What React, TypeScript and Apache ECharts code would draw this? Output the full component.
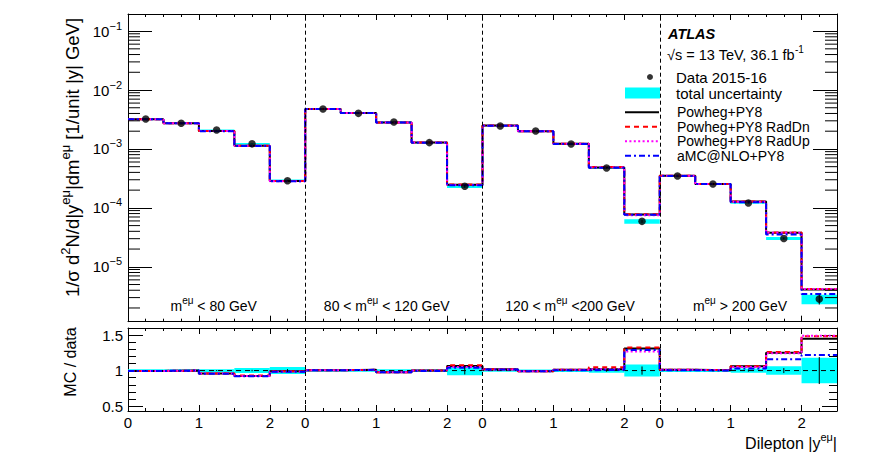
import React, { useEffect, useRef } from "react";
import * as echarts from "echarts";

const FONT = "'Liberation Sans', Arial, Helvetica, sans-serif";

// ---- categories / binning ----
const MASS_REGIONS = ["m<80", "80<m<120", "120<m<200", "m>200"];
const RAPIDITY_EDGES = [0, 0.5, 1.0, 1.5, 2.0, 2.5];
const REGION_SPAN = 2.5;
const REGION_BOUNDARIES = [2.5, 5, 7.5];

// ---- measured normalised cross-section (per bin, 4 regions x 5 bins) ----
const DATA_VALUES = [
  3.22e-3, 2.72e-3, 2.09e-3, 1.22e-3, 2.88e-4,
  4.76e-3, 4.02e-3, 2.87e-3, 1.28e-3, 2.32e-4,
  2.45e-3, 2.01e-3, 1.21e-3, 4.74e-4, 5.9e-5,
  3.47e-4, 2.54e-4, 1.21e-4, 3.03e-5, 2.83e-6,
];
// relative total uncertainty
const TOTAL_UNC = [
  0.02, 0.02, 0.02, 0.035, 0.05,
  0.015, 0.015, 0.02, 0.02, 0.065,
  0.015, 0.015, 0.02, 0.03, 0.085,
  0.02, 0.02, 0.03, 0.06, 0.18,
];
// relative statistical uncertainty
const STAT_UNC = [
  0.005, 0.005, 0.007, 0.01, 0.02,
  0.005, 0.005, 0.006, 0.01, 0.055,
  0.005, 0.006, 0.008, 0.015, 0.058,
  0.008, 0.01, 0.015, 0.035, 0.19,
];

// ---- MC / data ratios ----
const RATIO_POWHEG = [
  0.995, 1.0, 0.96, 0.925, 0.99,
  1.005, 1.01, 0.975, 1.0, 1.065,
  1.02, 0.99, 1.01, 1.02, 1.31,
  1.01, 1.005, 1.06, 1.25, 1.45,
];
const RATIO_RADDN = [
  0.995, 1.0, 0.96, 0.93, 0.99,
  1.005, 1.01, 0.975, 1.0, 1.075,
  1.02, 0.99, 1.01, 1.045, 1.325,
  1.01, 1.005, 1.06, 1.26, 1.485,
];
const RATIO_RADUP = [
  0.995, 1.0, 0.96, 0.925, 0.985,
  1.005, 1.01, 0.975, 1.0, 1.05,
  1.015, 0.99, 1.01, 1.02, 1.27,
  1.01, 1.005, 1.05, 1.245, 1.49,
];
const RATIO_AMC = [
  0.995, 1.0, 0.955, 0.92, 0.985,
  1.005, 1.01, 0.975, 0.995, 1.04,
  1.015, 0.99, 1.005, 1.01, 1.29,
  1.005, 1.0, 1.03, 1.16, 1.22,
];

// ---- axes ----
const X_MIN = 0;
const X_MAX = 10;
const X_LABEL_POS = [0, 1, 2, 2.5, 3.5, 4.5, 5, 6, 7, 7.5, 8.5, 9.5];
const Y_MIN = 1.17e-6;
const Y_MAX = 0.195;
const LOG_MINOR_MANTISSA = [2, 3, 4, 5, 6, 7, 8, 9];
const LOG_MINOR_DECADES = [1e-6, 1e-5, 1e-4, 1e-3, 1e-2, 1e-1];
const R_MIN = 0.43;
const R_MAX = 1.6;
const RATIO_MAJOR = [0.5, 1, 1.5];
const RATIO_MINOR = [0.6, 0.7, 0.8, 0.9, 1.1, 1.2, 1.3, 1.4, 1.6];

const REGION_LABELS = [
  "{m|m}{s|eμ}{m| < 80 GeV}",
  "{m|80 < m}{s|eμ}{m| < 120 GeV}",
  "{m|120 < m}{s|eμ}{m| <200 GeV}",
  "{m|m}{s|eμ}{m| > 200 GeV}",
];

// ---- helpers ----
const NB = RAPIDITY_EDGES.length - 1;
const binLo = (i: number) => Math.floor(i / NB) * REGION_SPAN + RAPIDITY_EDGES[i % NB];
const binHi = (i: number) => Math.floor(i / NB) * REGION_SPAN + RAPIDITY_EDGES[(i % NB) + 1];
const binMid = (i: number) => (binLo(i) + binHi(i)) / 2;
const step = (vals: number[]) => vals.flatMap((v, i) => [[binLo(i), v], [binHi(i), v]]);

const MC = [
  { name: "Powheg+PY8", ratio: RATIO_POWHEG, color: "#000000", dash: "solid" as any },
  { name: "Powheg+PY8 RadDn", ratio: RATIO_RADDN, color: "#ff0000", dash: [5, 4] },
  { name: "Powheg+PY8 RadUp", ratio: RATIO_RADUP, color: "#ff00ff", dash: [2, 2.4] },
  { name: "aMC@NLO+PY8", ratio: RATIO_AMC, color: "#0000ff", dash: [6, 3, 2, 3] },
];

const logMinor = LOG_MINOR_DECADES.flatMap((d) => LOG_MINOR_MANTISSA.map((m) => m * d)).filter(
  (v) => v > Y_MIN && v < Y_MAX
);

const BLACK = "#000";
const frameLine = { show: true, onZero: false, lineStyle: { color: BLACK, width: 1 } };
const noLine = { show: false, onZero: false };

function xAxis(gridIndex: number, position: string, major: boolean, frame: boolean, labels: boolean) {
  const ax: any = {
    type: "value",
    gridIndex,
    position,
    min: X_MIN,
    max: X_MAX,
    splitLine: { show: false },
    axisLine: frame ? frameLine : noLine,
    axisTick: major
      ? { show: true, inside: true, length: 6, customValues: X_LABEL_POS, lineStyle: { color: BLACK } }
      : { show: true, inside: true, length: 3, lineStyle: { color: BLACK } },
    axisLabel: { show: false },
  };
  if (!major) ax.interval = 0.25;
  if (labels) {
    ax.axisLabel = {
      show: true,
      customValues: X_LABEL_POS,
      formatter: (v: number) => String(Math.round((v % REGION_SPAN) * 100) / 100),
      fontSize: 15,
      fontFamily: FONT,
      color: BLACK,
      margin: 4,
    };
  }
  return ax;
}

function ratioY(position: string, major: boolean, labels: boolean) {
  return {
    type: "value",
    gridIndex: 1,
    position,
    min: R_MIN,
    max: R_MAX,
    splitLine: { show: false },
    axisLine: major ? frameLine : noLine,
    axisTick: {
      show: true,
      inside: true,
      length: major ? 15 : 8,
      customValues: major ? RATIO_MAJOR : RATIO_MINOR,
      lineStyle: { color: BLACK },
    },
    axisLabel: labels
      ? {
          show: true,
          customValues: RATIO_MAJOR,
          formatter: (v: number) => String(v),
          fontSize: 15,
          fontFamily: FONT,
          color: BLACK,
          margin: 5,
        }
      : { show: false },
  };
}

function logY(position: string, labels: boolean) {
  return {
    type: "log",
    logBase: 10,
    gridIndex: 0,
    position,
    min: Y_MIN,
    max: Y_MAX,
    splitLine: { show: false },
    axisLine: frameLine,
    axisTick: { show: true, inside: true, length: 24, lineStyle: { color: BLACK } },
    axisLabel: labels
      ? {
          show: true,
          showMinLabel: false,
          showMaxLabel: false,
          margin: 6,
          formatter: (v: number) => `{b|10}{s|${String(Math.round(Math.log10(v))).replace("-", "−")}}`,
          rich: {
            b: { fontSize: 15, fontFamily: FONT, color: BLACK, lineHeight: 22 },
            s: { fontSize: 11, fontFamily: FONT, color: BLACK, lineHeight: 10, verticalAlign: "top" },
          },
        }
      : { show: false },
  };
}

const bandRender = (fill: string) => (params: any, api: any) => {
  const p0 = api.coord([api.value(0), api.value(3)]);
  const p1 = api.coord([api.value(1), api.value(2)]);
  return {
    type: "rect",
    shape: { x: p0[0], y: p0[1], width: p1[0] - p0[0], height: p1[1] - p0[1] },
    style: { fill },
  };
};

const errRender = (params: any, api: any) => {
  const a = api.coord([api.value(0), api.value(1)]);
  const b = api.coord([api.value(0), api.value(2)]);
  return { type: "line", shape: { x1: a[0], y1: a[1], x2: b[0], y2: b[1] }, style: { stroke: BLACK, lineWidth: 1 } };
};

const minorTickRender = (len: number) => (params: any, api: any) => {
  const v = api.value(1);
  const l = api.coord([X_MIN, v]);
  const r = api.coord([X_MAX, v]);
  return {
    type: "group",
    children: [
      { type: "line", shape: { x1: l[0], y1: l[1], x2: l[0] + len, y2: l[1] }, style: { stroke: BLACK, lineWidth: 1 } },
      { type: "line", shape: { x1: r[0] - len, y1: r[1], x2: r[0], y2: r[1] }, style: { stroke: BLACK, lineWidth: 1 } },
    ],
  };
};

const boundaryMarkLine = {
  silent: true,
  symbol: ["none", "none"],
  label: { show: false },
  lineStyle: { color: BLACK, width: 1, type: [4, 3] },
  data: REGION_BOUNDARIES.map((x) => ({ xAxis: x })),
};

const richGraphic = (size: number) => ({
  m: { fontSize: size, fontFamily: FONT, fill: BLACK, lineHeight: Math.round(size * 1.45) },
  s: { fontSize: Math.round(size * 0.7), fontFamily: FONT, fill: BLACK, lineHeight: 10, verticalAlign: "top" },
});

const REGION_LABEL_X = [213.7, 386.7, 570, 740];

function buildOption(): any {
  const series: any[] = [];
  // upper panel
  series.push({
    type: "custom",
    name: "total uncertainty",
    xAxisIndex: 0,
    yAxisIndex: 0,
    renderItem: bandRender("#00ffff"),
    itemStyle: { color: "#00ffff" },
    encode: { x: [0, 1], y: [2, 3] },
    data: DATA_VALUES.map((d, i) => [binLo(i), binHi(i), d * (1 - TOTAL_UNC[i]), d * (1 + TOTAL_UNC[i])]),
    z: 1,
    silent: true,
    markLine: boundaryMarkLine,
  });
  MC.forEach((mc) =>
    series.push({
      type: "line",
      name: mc.name,
      xAxisIndex: 0,
      yAxisIndex: 0,
      data: step(DATA_VALUES.map((d, i) => d * mc.ratio[i])),
      symbol: "none",
      showSymbol: false,
      lineStyle: { color: mc.color, width: 2, type: mc.dash },
      itemStyle: { color: mc.color },
      z: 3,
      silent: true,
    })
  );
  series.push({
    type: "custom",
    name: "data stat",
    xAxisIndex: 0,
    yAxisIndex: 0,
    renderItem: errRender,
    encode: { x: 0, y: [1, 2] },
    data: DATA_VALUES.map((d, i) => [binMid(i), d * (1 - STAT_UNC[i]), d * (1 + STAT_UNC[i])]),
    z: 4,
    silent: true,
  });
  series.push({
    type: "scatter",
    name: "Data 2015-16",
    xAxisIndex: 0,
    yAxisIndex: 0,
    symbol: "circle",
    symbolSize: 7.5,
    itemStyle: { color: BLACK },
    data: DATA_VALUES.map((d, i) => [binMid(i), d]),
    z: 5,
    silent: true,
  });
  series.push({
    type: "custom",
    name: "log minor ticks",
    xAxisIndex: 0,
    yAxisIndex: 0,
    renderItem: minorTickRender(12),
    encode: { x: 0, y: 1 },
    data: logMinor.map((v) => [X_MIN, v]),
    z: 6,
    silent: true,
  });

  // ratio panel
  series.push({
    type: "custom",
    name: "total uncertainty",
    xAxisIndex: 4,
    yAxisIndex: 2,
    renderItem: bandRender("#00ffff"),
    itemStyle: { color: "#00ffff" },
    encode: { x: [0, 1], y: [2, 3] },
    data: DATA_VALUES.map((d, i) => [binLo(i), binHi(i), 1 - TOTAL_UNC[i], 1 + TOTAL_UNC[i]]),
    z: 1,
    silent: true,
    markLine: boundaryMarkLine,
  });
  series.push({
    type: "line",
    name: "data / data",
    xAxisIndex: 4,
    yAxisIndex: 2,
    data: step(DATA_VALUES.map((d) => d / d)),
    symbol: "none",
    showSymbol: false,
    lineStyle: { color: BLACK, width: 1, type: [5, 4] },
    z: 2,
    silent: true,
  });
  MC.forEach((mc) =>
    series.push({
      type: "line",
      name: mc.name,
      xAxisIndex: 4,
      yAxisIndex: 2,
      data: step(mc.ratio),
      symbol: "none",
      showSymbol: false,
      lineStyle: { color: mc.color, width: 2, type: mc.dash },
      itemStyle: { color: mc.color },
      z: 3,
      silent: true,
    })
  );
  series.push({
    type: "custom",
    name: "data stat ratio",
    xAxisIndex: 4,
    yAxisIndex: 2,
    renderItem: errRender,
    encode: { x: 0, y: [1, 2] },
    data: DATA_VALUES.map((d, i) => [binMid(i), 1 - STAT_UNC[i], 1 + STAT_UNC[i]]),
    z: 4,
    silent: true,
  });

  const legendText = (size: number, pad: number, lh: number) => ({
    fontSize: size,
    fontFamily: FONT,
    color: BLACK,
    lineHeight: lh,
    padding: [0, 0, 0, pad],
  });

  return {
    animation: false,
    backgroundColor: "#ffffff",
    textStyle: { fontFamily: FONT },
    grid: [
      { left: 128, right: 35, top: 14, bottom: 150.3 },
      { left: 128, right: 35, top: 328, bottom: 61 },
    ],
    xAxis: [
      xAxis(0, "bottom", false, true, false),
      xAxis(0, "bottom", true, false, false),
      xAxis(0, "top", false, true, false),
      xAxis(0, "top", true, false, false),
      xAxis(1, "bottom", false, true, true),
      xAxis(1, "bottom", true, false, false),
      xAxis(1, "top", false, true, false),
      xAxis(1, "top", true, false, false),
    ],
    yAxis: [
      logY("left", true),
      logY("right", false),
      ratioY("left", true, true),
      ratioY("left", false, false),
      ratioY("right", true, false),
      ratioY("right", false, false),
    ],
    legend: [
      {
        data: [{ name: "Data 2015-16", icon: "circle" }],
        left: 647,
        top: 69,
        padding: 0,
        itemWidth: 6,
        itemHeight: 6,
        selectedMode: false,
        textStyle: legendText(15, 18, 16),
      },
      {
        data: [{ name: "total uncertainty", icon: "rect" }],
        left: 625,
        top: 85,
        padding: 0,
        itemWidth: 35,
        itemHeight: 11,
        selectedMode: false,
        textStyle: legendText(15, 11, 16),
      },
      {
        data: MC.map((m) => m.name),
        orient: "vertical",
        left: 624,
        top: 105,
        padding: 0,
        itemGap: 0,
        itemWidth: 34,
        itemHeight: 14.5,
        itemStyle: { opacity: 0 },
        selectedMode: false,
        textStyle: legendText(14, 13, 14.5),
      },
    ],
    graphic: [
      {
        type: "text",
        x: 668,
        y: 34,
        silent: true,
        style: {
          text: "ATLAS",
          fontSize: 14.5,
          fontWeight: "bold",
          fontStyle: "italic",
          fontFamily: FONT,
          fill: BLACK,
          align: "left",
          verticalAlign: "middle",
        },
      },
      {
        type: "text",
        x: 667,
        y: 54.5,
        silent: true,
        style: {
          text: "{m|√s = 13 TeV, 36.1 fb}{s|-1}",
          rich: richGraphic(14.5),
          align: "left",
          verticalAlign: "middle",
        },
      },
      ...REGION_LABELS.map((t, i) => ({
        type: "text",
        x: REGION_LABEL_X[i],
        y: 305.5,
        silent: true,
        style: { text: t, rich: richGraphic(14), align: "center", verticalAlign: "middle" },
      })),
      {
        type: "text",
        x: 72,
        y: 157.5,
        rotation: Math.PI / 2,
        silent: true,
        style: {
          text: "{m|1/σ d}{s|2}{m|N/d|y}{s|eμ}{m||dm}{s|eμ}{m| [1/unit |y| GeV]}",
          rich: richGraphic(18.5),
          align: "center",
          verticalAlign: "middle",
        },
      },
      {
        type: "text",
        x: 70,
        y: 362,
        rotation: Math.PI / 2,
        silent: true,
        style: {
          text: "MC / data",
          fontSize: 16,
          fontFamily: FONT,
          fill: BLACK,
          align: "center",
          verticalAlign: "middle",
        },
      },
      {
        type: "text",
        x: 837,
        y: 443,
        silent: true,
        style: {
          text: "{m|Dilepton |y}{s|eμ}{m||}",
          rich: richGraphic(16),
          align: "right",
          verticalAlign: "middle",
        },
      },
    ],
    series,
  };
}

export default function App() {
  const ref = useRef<HTMLDivElement>(null);
  useEffect(() => {
    document.body.style.margin = "0";
    const chart = echarts.init(ref.current as HTMLDivElement, null, { renderer: "svg" });
    chart.setOption(buildOption());
    return () => chart.dispose();
  }, []);
  return <div ref={ref} style={{ width: 872, height: 472, background: "#ffffff" }} />;
}
